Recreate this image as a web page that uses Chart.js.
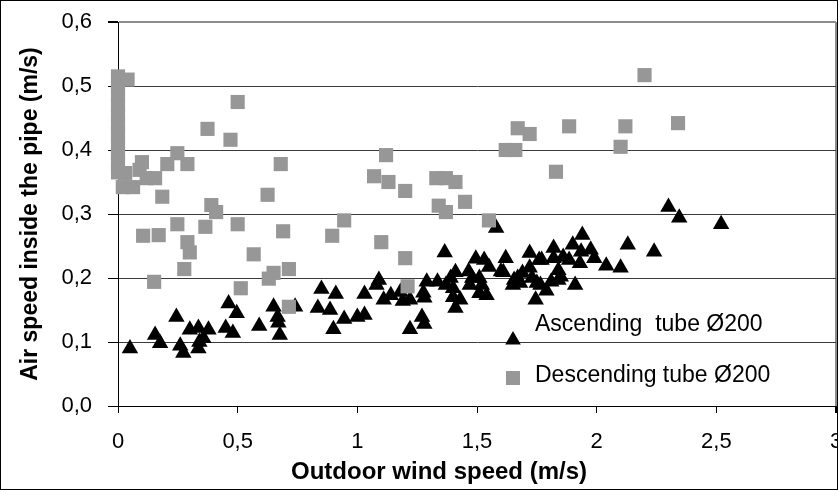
<!DOCTYPE html>
<html>
<head>
<meta charset="utf-8">
<script src="https://cdn.jsdelivr.net/npm/chart.js@4.4.1/dist/chart.umd.min.js"></script>
<style>
  html, body { margin: 0; padding: 0; background: #fff; overflow: hidden; }
  #wrap { width: 838px; height: 490px; overflow: hidden; }
</style>
</head>
<body>
<div id="wrap"><canvas id="myChart" width="846" height="490"></canvas></div>
<script>
// chart values
const ascendingWind = [0.05, 0.155, 0.176, 0.244, 0.26, 0.273, 0.30, 0.336, 0.378, 0.336, 0.357, 0.34,
  0.462, 0.496, 0.45, 0.48, 0.59, 0.65, 0.667, 0.67, 0.676, 0.74, 0.85, 0.91, 0.835, 0.886, 0.945,
  1.0, 1.03, 0.90, 1.03, 1.09, 1.08, 1.11, 1.14, 1.18, 1.19, 1.22, 1.22, 1.27, 1.28, 1.28, 1.29,
  1.335, 1.37, 1.365, 1.41, 1.39, 1.40, 1.43, 1.41, 1.40, 1.48, 1.51, 1.495, 1.53, 1.55, 1.47, 1.51,
  1.54, 1.52, 1.58, 1.62, 1.61, 1.655, 1.68, 1.65, 1.72, 1.72, 1.76, 1.75, 1.745, 2.30, 2.345, 2.52,
  2.13, 2.24, 2.10, 2.04, 1.94, 1.90, 1.82, 1.975, 1.99, 1.77, 1.86, 1.885, 1.93, 1.84, 1.73, 1.81,
  1.84, 1.91, 1.765, 1.79, 1.69, 1.465, 1.60, 1.67, 1.82, 1.276, 1.935, 1.85];
const ascendingAir = [0.09, 0.111, 0.098, 0.139, 0.094, 0.083, 0.119, 0.122, 0.119, 0.09, 0.106, 0.10,
  0.16, 0.145, 0.122, 0.114, 0.125, 0.155, 0.139, 0.13, 0.111, 0.155, 0.183, 0.175, 0.153, 0.15, 0.136,
  0.139, 0.142, 0.12, 0.175, 0.197, 0.189, 0.166, 0.173, 0.178, 0.164, 0.166, 0.12, 0.139, 0.128, 0.169, 0.194,
  0.194, 0.189, 0.24, 0.209, 0.20, 0.17, 0.166, 0.153, 0.184, 0.20, 0.20, 0.23, 0.228, 0.217, 0.189, 0.176,
  0.173, 0.189, 0.278, 0.231, 0.209, 0.197, 0.192, 0.189, 0.239, 0.216, 0.228, 0.192, 0.166, 0.311, 0.294, 0.284,
  0.252, 0.241, 0.216, 0.219, 0.267, 0.252, 0.247, 0.244, 0.231, 0.228, 0.233, 0.228, 0.223, 0.212, 0.20, 0.194,
  0.197, 0.189, 0.189, 0.18, 0.208, 0.21, 0.21, 0.20, 0.231, 0.177, 0.241, 0.202];

const descendingWind = [0, 0, 0, 0, 0, 0, 0, 0, 0, 0, 0,
  0.04, 0.5, 0.374, 0.47, 0.248, 0.10, 0.206, 0.29, 0.68, 0.03, 0.09, 0.063, 0.12, 0.155, 0.02,
  0.185, 0.625, 0.39, 0.41, 0.248, 0.365, 0.5, 0.69, 0.105, 0.17, 0.29, 0.30, 0.567, 0.277, 0.65,
  0.63, 0.714, 0.151, 0.513, 0.714, 1.67, 1.72, 1.62, 1.66, 1.12, 1.07, 1.13, 1.20, 1.33, 1.37,
  1.41, 1.45, 1.34, 1.37, 0.945, 1.55, 0.895, 1.10, 1.20, 1.21, 2.20, 1.885, 2.12, 2.34, 2.10, 1.83];
const descendingAir = [0.515, 0.50, 0.485, 0.47, 0.455, 0.44, 0.425, 0.41, 0.395, 0.38, 0.365,
  0.51, 0.475, 0.433, 0.416, 0.395, 0.381, 0.378, 0.378, 0.378, 0.364, 0.369, 0.342, 0.356, 0.356, 0.342,
  0.327, 0.33, 0.314, 0.303, 0.284, 0.28, 0.284, 0.273, 0.266, 0.267, 0.256, 0.24, 0.237, 0.214, 0.208,
  0.199, 0.214, 0.194, 0.184, 0.155, 0.434, 0.425, 0.40, 0.40, 0.392, 0.359, 0.35, 0.336, 0.356, 0.356,
  0.35, 0.319, 0.313, 0.303, 0.29, 0.29, 0.266, 0.256, 0.231, 0.187, 0.517, 0.437, 0.437, 0.442, 0.405, 0.366];

const seriesNames = ["Ascending  tube Ø200", "Descending tube Ø200"];
const xAxisTitle = "Outdoor wind speed (m/s)";
const yAxisTitle = "Air speed inside the pipe (m/s)";

const FONT = "'Liberation Sans', Arial, Helvetica, sans-serif";
Chart.defaults.font.family = FONT;
Chart.defaults.color = "#000";

function toPoints(xs, ys) {
  const pts = [];
  for (let i = 0; i < xs.length; i++) {
    pts.push({ x: xs[i], y: ys[i] });
  }
  return pts;
}

// white page + thin black frame, x axis title and the in-plot legend
const decorPlugin = {
  id: "decor",
  beforeDraw(chart) {
    const c = chart.ctx;
    c.save();
    c.fillStyle = "#fff";
    c.fillRect(0, 0, chart.width, chart.height);
    c.restore();
  },
  afterDraw(chart) {
    const c = chart.ctx;
    const a = chart.chartArea;
    c.save();
    // x axis title
    c.font = "bold 24px " + FONT;
    c.fillStyle = "#000";
    c.textAlign = "center";
    c.textBaseline = "middle";
    c.fillText(xAxisTitle, a.left + 321, a.bottom + 66);

    // legend
    c.font = "23px " + FONT;
    c.textAlign = "left";
    c.fillText(seriesNames[0], a.left + 417, a.top + 303);
    c.fillText(seriesNames[1], a.left + 417, a.top + 354);
    // triangle marker
    const tx = a.left + 395, ty = a.top + 318, r = 9;
    c.fillStyle = "#000";
    c.beginPath();
    c.moveTo(tx, ty - r);
    c.lineTo(tx + r * 0.866, ty + r / 2);
    c.lineTo(tx - r * 0.866, ty + r / 2);
    c.closePath();
    c.fill();
    // square marker
    c.fillStyle = "#979797";
    c.fillRect(a.left + 388, a.top + 349, 14, 14);

    // frame (visible window is 838 wide, canvas a bit wider so "3" gets cut like the original)
    c.strokeStyle = "#000";
    c.lineWidth = 1;
    c.strokeRect(0.5, 0.5, 837, 489);
    c.restore();
  },
};

const ctx = document.getElementById("myChart").getContext("2d");

new Chart(ctx, {
  type: "scatter",
  data: {
    datasets: [
      {
        label: seriesNames[1],
        data: toPoints(descendingWind, descendingAir),
        pointStyle: "rect",
        pointRadius: 10,
        backgroundColor: "#979797",
        borderWidth: 0,
        clip: false,
      },
      {
        label: seriesNames[0],
        data: toPoints(ascendingWind, ascendingAir),
        pointStyle: "triangle",
        pointRadius: 9.5,
        backgroundColor: "#000",
        borderWidth: 0,
        clip: false,
      },
    ],
  },
  options: {
    responsive: false,
    animation: false,
    events: [],
    layout: { padding: { left: 0, top: 22, right: 2, bottom: 0 } },
    plugins: {
      legend: { display: false },
      tooltip: { enabled: false },
    },
    scales: {
      x: {
        type: "linear",
        min: 0,
        max: 3,
        ticks: {
          stepSize: 0.5,
          padding: 16,
          font: { size: 22 },
          callback: (v) => String(v).replace(".", ","),
        },
        grid: {
          tickLength: 7,
          tickColor: "#000",
          color: (c) => (c.tick && c.tick.value === 3 ? "#8c8c8c" : "rgba(0,0,0,0)"),
          lineWidth: (c) => (c.tick && c.tick.value === 3 ? 2 : 1),
        },
        border: { color: "#000", width: 1 },
        afterFit(scale) {
          scale.height = 84;
          scale.paddingLeft = 0;
          scale.paddingRight = 0;
        },
      },
      y: {
        min: 0,
        max: 0.6,
        ticks: {
          stepSize: 0.1,
          padding: 16,
          font: { size: 22 },
          callback: (v) => v.toFixed(1).replace(".", ","),
        },
        title: {
          display: true,
          text: yAxisTitle,
          font: { size: 23, weight: "bold" },
          padding: { top: 17, bottom: 0 },
        },
        grid: {
          tickLength: 10,
          tickColor: "#000",
          color: (c) => {
            const v = c.tick ? c.tick.value : 0;
            if (Math.abs(v - 0.6) < 1e-9) return "#8c8c8c";
            if (Math.abs(v) < 1e-9) return "rgba(0,0,0,0)";
            return "#3a3a3a";
          },
          lineWidth: (c) => (c.tick && Math.abs(c.tick.value - 0.6) < 1e-9 ? 2 : 1),
        },
        border: { color: "#000", width: 1 },
        afterFit(scale) {
          scale.width = 118;
          scale.paddingTop = 0;
          scale.paddingBottom = 0;
        },
      },
    },
  },
  plugins: [decorPlugin],
});
</script>
</body>
</html>
